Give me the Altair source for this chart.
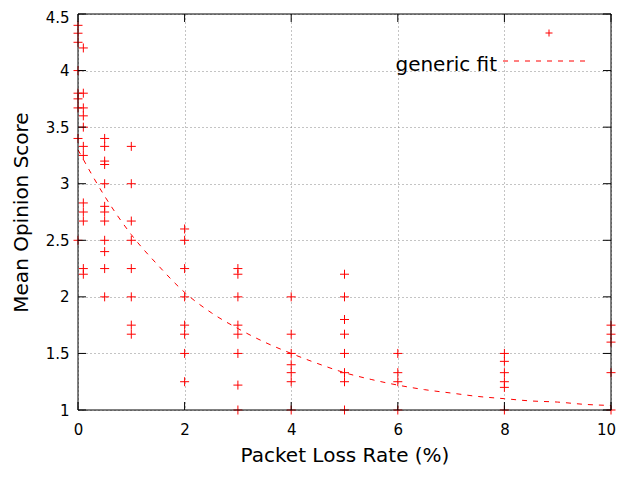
import altair as alt
import pandas as pd

# ---- data ----
loss_levels = [0, 0.1, 0.5, 1, 2, 3, 4, 5, 6, 8, 10]
mos_values = [
    [4.4, 4.33, 4.25, 4.0, 3.8, 3.75, 3.67, 3.4, 2.5],
    [4.2, 3.8, 3.67, 3.6, 3.5, 3.33, 3.25, 2.83, 2.75, 2.67, 2.25, 2.2],
    [3.4, 3.33, 3.2, 3.17, 3.0, 2.8, 2.75, 2.67, 2.5, 2.4, 2.25, 2.0],
    [3.33, 3.0, 2.67, 2.5, 2.25, 2.0, 1.75, 1.67],
    [2.6, 2.5, 2.25, 2.0, 1.75, 1.67, 1.5, 1.25],
    [2.25, 2.2, 2.0, 1.75, 1.67, 1.5, 1.22, 1.0],
    [2.0, 1.67, 1.5, 1.4, 1.33, 1.25, 1.0],
    [2.2, 2.0, 1.8, 1.67, 1.5, 1.33, 1.25, 1.0],
    [1.5, 1.33, 1.25, 1.0],
    [1.5, 1.43, 1.33, 1.25, 1.2, 1.0],
    [1.75, 1.67, 1.6, 1.33, 1.0],
]

fit_x = [0, 0.5, 1, 1.5, 2, 2.5, 3, 3.5, 4, 4.5, 5, 5.5, 6, 6.5, 7, 7.5, 8, 8.5, 9, 9.5, 10]
fit_y = [3.30, 2.89, 2.55, 2.28, 2.04, 1.86, 1.72, 1.60, 1.50, 1.41, 1.33, 1.27, 1.22, 1.18, 1.15, 1.12, 1.10, 1.08, 1.07, 1.05, 1.04]

x_ticks = [0, 2, 4, 6, 8, 10]
y_ticks = [1, 1.5, 2, 2.5, 3, 3.5, 4, 4.5]

x_title = "Packet Loss Rate (%)"
y_title = "Mean Opinion Score"
fit_label = "generic fit"

# ---- build tables ----
rows = []
for lv, vals in zip(loss_levels, mos_values):
    for v in vals:
        rows.append({"loss": lv, "mos": v})
pts = pd.DataFrame(rows)
fit = pd.DataFrame({"loss": fit_x, "mos": fit_y})
xt = pd.DataFrame({"v": x_ticks})
yt = pd.DataFrame({"v": y_ticks})

W, H = 533, 396
FONT = "DejaVu Sans"
TL = 8

xscale = alt.Scale(domain=[0, 10], nice=False, zero=False)
yscale = alt.Scale(domain=[1, 4.5], nice=False, zero=False)

xaxis = alt.Axis(values=x_ticks, grid=True, gridDash=[1, 3], gridColor="#888888",
                 ticks=False, domain=False, labelFont=FONT, labelFontSize=15,
                 labelColor="black", labelPadding=12, labelFlush=False,
                 labelOffset={"condition": {"test": "datum.value == 10", "value": -5}, "value": 0},
                 title=x_title, titleFont=FONT,
                 titleFontSize=20, titleFontWeight="normal", titleColor="black",
                 titlePadding=8)
yaxis = alt.Axis(values=y_ticks, grid=True, gridDash=[1, 3], gridColor="#888888",
                 ticks=False, domain=False, format="~g", labelFont=FONT, labelFontSize=15,
                 labelColor="black", labelPadding=9, labelFlush=False,
                 labelOffset={"condition": {"test": "datum.value == 4.5", "value": 3}, "value": 0},
                 title=y_title, titleFont=FONT,
                 titleFontSize=20, titleFontWeight="normal", titleColor="black",
                 titlePadding=14)

plus = "M-1,0L1,0M0,-1L0,1"

points = alt.Chart(pts).mark_point(shape=plus, size=81, filled=False, color="red",
                                   strokeWidth=1, opacity=1).encode(
    x=alt.X("loss:Q", scale=xscale, axis=xaxis),
    y=alt.Y("mos:Q", scale=yscale, axis=yaxis),
)

fitline = alt.Chart(fit).mark_line(color="red", strokeDash=[5, 6], strokeWidth=1,
                                   interpolate="monotone").encode(
    x=alt.X("loss:Q", scale=xscale),
    y=alt.Y("mos:Q", scale=yscale),
)

tick_left = alt.Chart(yt).mark_rule(color="black").encode(
    y=alt.Y("v:Q", scale=yscale), x=alt.value(0), x2=alt.value(TL))
tick_right = alt.Chart(yt).mark_rule(color="black").encode(
    y=alt.Y("v:Q", scale=yscale), x=alt.value(W - TL), x2=alt.value(W))
tick_bottom = alt.Chart(xt).mark_rule(color="black").encode(
    x=alt.X("v:Q", scale=xscale), y=alt.value(H - TL), y2=alt.value(H))
tick_top = alt.Chart(xt).mark_rule(color="black").encode(
    x=alt.X("v:Q", scale=xscale), y=alt.value(0), y2=alt.value(TL))

# border drawn on top of the marks (as gnuplot does)
frame_df = pd.DataFrame({"side": ["left", "right", "top", "bottom"]})
b_left = alt.Chart(frame_df.iloc[[0]]).mark_rule(color="black").encode(
    x=alt.value(0), y=alt.value(0), y2=alt.value(H))
b_right = alt.Chart(frame_df.iloc[[1]]).mark_rule(color="black").encode(
    x=alt.value(W), y=alt.value(0), y2=alt.value(H))
b_top = alt.Chart(frame_df.iloc[[2]]).mark_rule(color="black").encode(
    x=alt.value(0), x2=alt.value(W), y=alt.value(0))
b_bottom = alt.Chart(frame_df.iloc[[3]]).mark_rule(color="black").encode(
    x=alt.value(0), x2=alt.value(W), y=alt.value(H))

leg_df = pd.DataFrame({"label": [fit_label]})
leg_text = alt.Chart(leg_df).mark_text(font=FONT, fontSize=20, align="right",
                                       baseline="alphabetic", color="black").encode(
    text="label:N", x=alt.value(419), y=alt.value(57))
leg_line = alt.Chart(leg_df).mark_rule(color="red", strokeDash=[5, 6], strokeWidth=1).encode(
    x=alt.value(425), x2=alt.value(510), y=alt.value(47))
leg_pt = alt.Chart(leg_df).mark_point(shape=plus, size=49, filled=False, color="red",
                                      strokeWidth=1, opacity=1).encode(
    x=alt.value(471), y=alt.value(19))

chart = alt.layer(fitline, points, tick_left, tick_right, tick_bottom, tick_top,
                  b_left, b_right, b_top, b_bottom,
                  leg_text, leg_line, leg_pt).properties(
    width=W, height=H,
    autosize=alt.AutoSizeParams(type="none"),
    padding={"left": 70, "top": 6, "right": 5, "bottom": 59},
    background="white",
).configure_view(stroke=None)

chart.save("out.html", embed_options={"renderer": "svg", "actions": False})
